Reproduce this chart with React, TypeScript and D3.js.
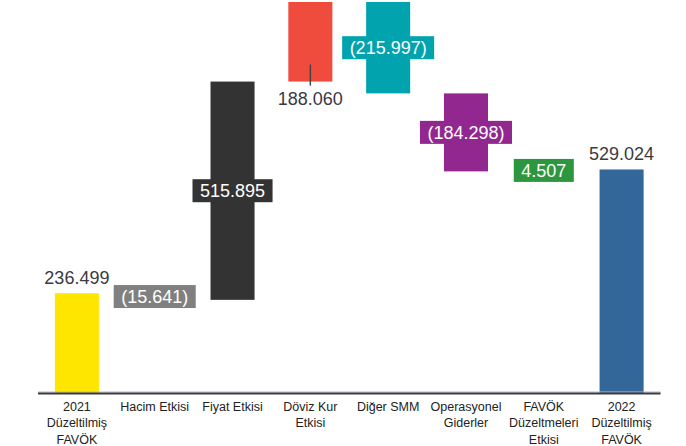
import React from "react";
import * as d3 from "d3";

const categoryLines: string[][] = [
  ["2021", "Düzeltilmiş", "FAVÖK"],
  ["Hacim Etkisi"],
  ["Fiyat Etkisi"],
  ["Döviz Kur", "Etkisi"],
  ["Diğer SMM"],
  ["Operasyonel", "Giderler"],
  ["FAVÖK", "Düzeltmeleri", "Etkisi"],
  ["2022", "Düzeltilmiş", "FAVÖK"],
];
const values = [236.499, -15.641, 515.895, 188.06, -215.997, -184.298, 4.507, 529.024];
const isTotal = [true, false, false, false, false, false, false, true];
const valueLabels = ["236.499", "(15.641)", "515.895", "188.060", "(215.997)", "(184.298)", "4.507", "529.024"];
const labelModes = ["above", "box", "box", "below", "box", "box", "box", "above"];
const colors = ["#FFE600", "#808080", "#333333", "#F04C3E", "#00A3AE", "#91278F", "#2C973E", "#336699"];

const W = 686;
const H = 446;
const FONT = "'Liberation Sans', Arial, sans-serif";
const TEXT = "#3a3a42";

function textWidth(s: string, size: number) {
  let w = 0;
  for (const c of s) {
    if (c >= "0" && c <= "9") w += 0.556;
    else if (c === ".") w += 0.278;
    else if (c === "(" || c === ")") w += 0.333;
    else w += 0.55;
  }
  return w * size;
}

export default function App() {
  const ids = categoryLines.map((_, i) => String(i));
  const x = d3.scaleBand<string>().domain(ids).range([38, 660.5]).paddingInner(0.434).paddingOuter(0.217);

  // waterfall spans
  let run = 0;
  const spans = values.map((v, i) => {
    if (isTotal[i]) {
      run = v;
      return { y0: 0, y1: v };
    }
    const s = { y0: run, y1: run + v };
    run += v;
    return s;
  });
  const maxV = d3.max(spans, (s) => Math.max(s.y0, s.y1)) as number;
  const y = d3.scaleLinear().domain([0, maxV]).range([393.3, 2]);

  const bw = x.bandwidth();
  const fs = 18;

  return (
    <svg width={W} height={H} style={{ position: "absolute", left: 0, top: 0, background: "#fff" }} fontFamily={FONT}>
      <rect width={W} height={H} fill="#fff" />
      {spans.map((s, i) => {
        const x0 = x(ids[i]) as number;
        const cx = x0 + bw / 2;
        const top = y(Math.max(s.y0, s.y1));
        const bot = y(Math.min(s.y0, s.y1));
        const mode = labelModes[i];
        const lab = valueLabels[i];
        let label: React.ReactNode = null;
        if (mode === "above") {
          label = (
            <text x={cx} y={top - 9.5} textAnchor="middle" fontSize={fs} fill={TEXT}>
              {lab}
            </text>
          );
        } else if (mode === "below") {
          label = (
            <g>
              <line x1={cx} x2={cx} y1={bot - 17} y2={bot + 4} stroke="#444" strokeWidth={1.5} />
              <text x={cx} y={bot + 23} textAnchor="middle" fontSize={fs} fill={TEXT}>
                {lab}
              </text>
            </g>
          );
        } else {
          const mid = (top + bot) / 2;
          const tw = textWidth(lab, fs) + 15;
          label = (
            <g>
              <rect x={cx - tw / 2} y={mid - 11.5} width={tw} height={23} fill={colors[i]} />
              <text x={cx} y={mid + 6.3} textAnchor="middle" fontSize={fs} fill="#fff">
                {lab}
              </text>
            </g>
          );
        }
        return (
          <g key={i}>
            <rect x={x0} y={top} width={bw} height={Math.max(bot - top, 0.5)} fill={colors[i]} />
            {label}
          </g>
        );
      })}
      <line x1={38} x2={660.5} y1={392} y2={392} stroke="#b8b8c0" strokeWidth={1} />
      <line x1={38} x2={660.5} y1={393.5} y2={393.5} stroke="#3a3a44" strokeWidth={2} />
      {categoryLines.map((lines, i) => {
        const cx = (x(ids[i]) as number) + bw / 2;
        return (
          <text key={i} x={cx} textAnchor="middle" fontSize={12.5} fill="#222">
            {lines.map((l, j) => (
              <tspan key={j} x={cx} y={411 + j * 16.3}>
                {l}
              </tspan>
            ))}
          </text>
        );
      })}
    </svg>
  );
}
